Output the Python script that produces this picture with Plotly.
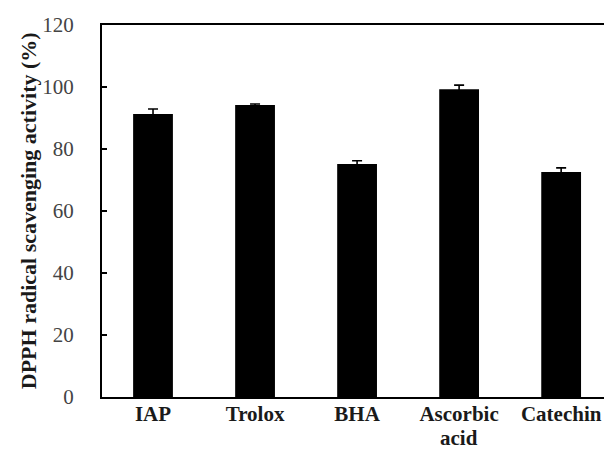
import plotly.graph_objects as go

# DPPH radical scavenging activity of IAP and reference antioxidants
categories = ["IAP", "Trolox", "BHA", "Ascorbic", "Catechin"]
second_line = ["", "", "", "acid", ""]
activity = [91.3, 94.2, 75.2, 99.3, 72.6]
sd = [1.6, 0.3, 1.0, 1.3, 1.3]
y_ticks = [0, 20, 40, 60, 80, 100, 120]

serif = "Liberation Serif, Times New Roman, serif"
label_size = 21

fig = go.Figure(
    go.Bar(
        x=list(range(len(categories))),
        y=activity,
        width=0.39,
        marker=dict(color="black", line=dict(width=0)),
        error_y=dict(type="data", array=sd, visible=True, color="black",
                     thickness=1.6, width=5),
    )
)

fig.update_layout(
    width=604,
    height=450,
    margin=dict(l=102, r=0, t=25, b=53),
    paper_bgcolor="white",
    plot_bgcolor="white",
    showlegend=False,
    font=dict(family=serif, color="#222"),
)

fig.update_xaxes(
    range=[-0.5, 4.42],
    tickvals=list(range(len(categories))),
    ticktext=[f"<b>{c}</b>" for c in categories],
    tickfont=dict(family=serif, size=label_size, color="#1a1a1a"),
    ticklabelstandoff=-3,
    showline=True, linecolor="black", linewidth=2, mirror=True,
    ticks="", showgrid=False, zeroline=False, automargin=False,
)

fig.update_yaxes(
    range=[0, 120],
    tickvals=y_ticks,
    tickfont=dict(family=serif, size=21, color="#444"),
    ticks="inside", ticklen=5, tickwidth=1.5, tickcolor="black",
    ticklabelstandoff=22,
    showline=True, linecolor="black", linewidth=2,
    showgrid=False, zeroline=False, automargin=False,
)

# second line of the wrapped category names, set tight under the first line
for i, extra in enumerate(second_line):
    if extra:
        fig.add_annotation(
            text=f"<b>{extra}</b>", xref="x", yref="paper",
            x=i, y=0, yshift=-55, xanchor="center", yanchor="bottom",
            showarrow=False,
            font=dict(family=serif, size=label_size, color="#1a1a1a"),
        )

fig.add_annotation(
    text="<b>DPPH radical scavenging activity (%)</b>",
    xref="paper", yref="paper",
    x=-0.147, y=0.5, xanchor="center", yanchor="middle",
    textangle=-90, showarrow=False,
    font=dict(family=serif, size=22, color="#1a1a1a"),
)

fig.write_html("out.html")
